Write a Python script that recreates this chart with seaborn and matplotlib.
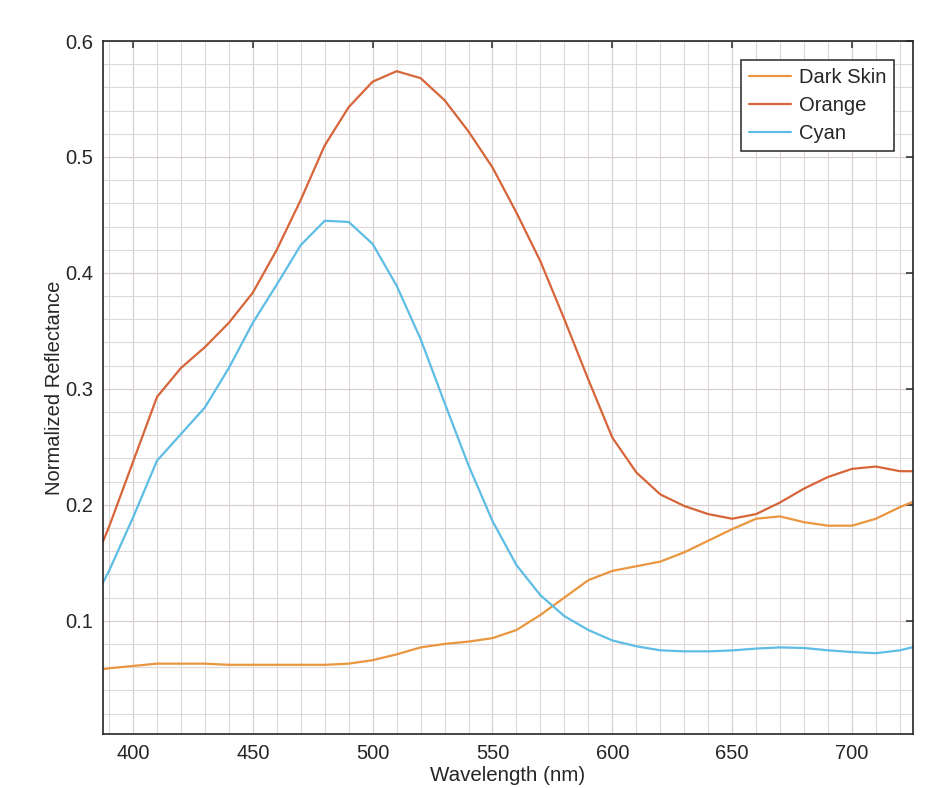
import pandas as pd
import matplotlib
matplotlib.use("Agg")
import matplotlib.pyplot as plt
from matplotlib.ticker import MultipleLocator
import seaborn as sns

# Wavelength samples (nm) and reflectance
wavelength = [387, 390, 400, 410, 420, 430, 440, 450, 460, 470, 480, 490,
              500, 510, 520, 530, 540, 550, 560, 570, 580, 590, 600, 610,
              620, 630, 640, 650, 660, 670, 680, 690, 700, 710, 720, 726]

dark_skin = [0.058, 0.059, 0.061, 0.063, 0.063, 0.063, 0.062, 0.062, 0.062,
             0.062, 0.062, 0.063, 0.066, 0.071, 0.077, 0.080, 0.082, 0.085,
             0.092, 0.105, 0.120, 0.135, 0.143, 0.147, 0.151, 0.159, 0.169,
             0.179, 0.188, 0.190, 0.185, 0.182, 0.182, 0.188, 0.198, 0.203]

orange = [0.166, 0.181, 0.237, 0.293, 0.318, 0.336, 0.357, 0.383, 0.420,
          0.463, 0.510, 0.543, 0.565, 0.574, 0.568, 0.549, 0.522, 0.491,
          0.452, 0.410, 0.360, 0.308, 0.258, 0.228, 0.209, 0.199, 0.192,
          0.188, 0.192, 0.202, 0.214, 0.224, 0.231, 0.233, 0.229, 0.229]

cyan = [0.131, 0.143, 0.189, 0.238, 0.261, 0.284, 0.318, 0.357, 0.390,
        0.424, 0.445, 0.444, 0.425, 0.389, 0.343, 0.288, 0.234, 0.186,
        0.148, 0.122, 0.104, 0.092, 0.083, 0.078, 0.0745, 0.0736, 0.0736,
        0.0744, 0.076, 0.077, 0.0765, 0.0745, 0.073, 0.072, 0.0745, 0.0775]

patches = ["Dark Skin", "Orange", "Cyan"]
colors = {"Dark Skin": "#E9963F", "Orange": "#D7653A", "Cyan": "#5DBDE4"}

df = pd.concat([
    pd.DataFrame({"wavelength": wavelength, "reflectance": vals, "patch": name})
    for name, vals in zip(patches, [dark_skin, orange, cyan])
])

sns.set_theme(style="white")
plt.rcParams["font.family"] = ["Liberation Sans", "DejaVu Sans"]

fig = plt.figure(figsize=(9.3, 7.88), dpi=100)
ax = fig.add_axes([0.1108, 0.0685, 0.871, 0.8794])

sns.lineplot(data=df, x="wavelength", y="reflectance", hue="patch",
             hue_order=patches, palette=colors, linewidth=1.6, ax=ax)

ax.set_xlim(387.5, 725.5)
ax.set_ylim(0.0023, 0.6)
ax.set_xticks([400, 450, 500, 550, 600, 650, 700])
ax.set_yticks([0.1, 0.2, 0.3, 0.4, 0.5, 0.6])
ax.set_yticklabels(["0.1", "0.2", "0.3", "0.4", "0.5", "0.6"])
ax.xaxis.set_minor_locator(MultipleLocator(10))
ax.yaxis.set_minor_locator(MultipleLocator(0.02))

# MATLAB style grid (major + minor)
ax.grid(which="major", color="#d8d0d0", linewidth=0.9)
ax.grid(which="minor", color="#dfd8d8", linewidth=0.8)
ax.set_axisbelow(True)

ax.tick_params(which="major", direction="in", length=5, width=1.1,
               top=True, right=True, labelsize=14.5, colors="#262626",
               pad=7)
ax.tick_params(which="minor", length=0)
for s in ax.spines.values():
    s.set_color("#262626")
    s.set_linewidth(1.2)

ax.set_xlabel("Wavelength (nm)", fontsize=14.8, color="#262626", labelpad=2.5)
ax.set_ylabel("Normalized Reflectance", fontsize=14.5, color="#262626", labelpad=1)

leg = ax.legend(loc="upper right", fontsize=14.5, frameon=True, fancybox=False,
                edgecolor="#262626", framealpha=1, handlelength=2.1,
                borderaxespad=0.95, labelspacing=0.45, handletextpad=0.35,
                borderpad=0.4)
leg.get_frame().set_linewidth(1.1)
leg.set_title(None)

fig.savefig("out.png", dpi=100, facecolor="white")
